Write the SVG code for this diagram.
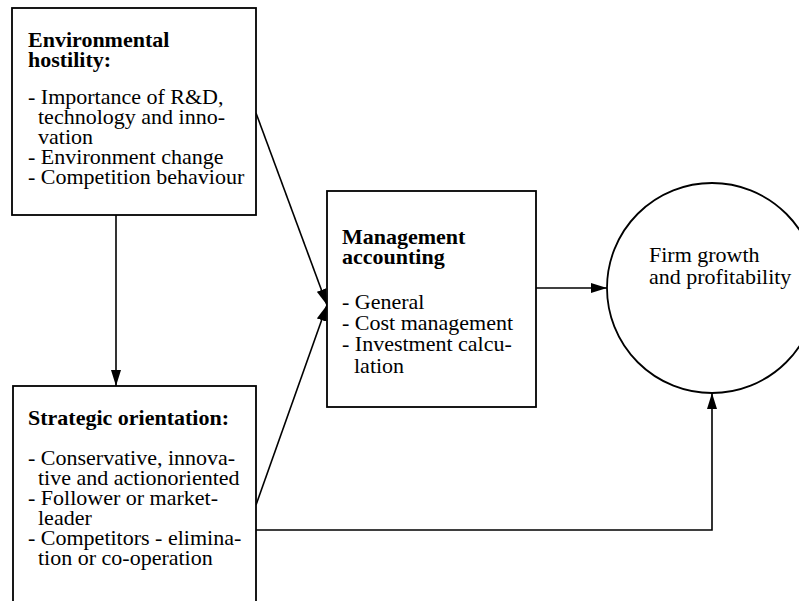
<svg xmlns="http://www.w3.org/2000/svg" width="799" height="601" viewBox="0 0 799 601">
<style>
.box{fill:#fff;stroke:#000;stroke-width:1.8}
.t{font-family:"Liberation Serif","Times New Roman",serif;font-size:22px;fill:#000}
.b{font-weight:bold}
.ln{fill:none;stroke:#000;stroke-width:1.6}
</style>
<defs>
<marker id="ah" viewBox="0 0 16 10" refX="16" refY="5" markerWidth="16" markerHeight="10" markerUnits="userSpaceOnUse" orient="auto">
<path d="M0,0 L16,5 L0,10 Z" fill="#000"/>
</marker>
</defs>
<rect width="799" height="601" fill="#fff"/>
<g id="connectors">
<line class="ln" x1="116" y1="215" x2="116" y2="386" marker-end="url(#ah)"/>
<line class="ln" x1="256" y1="113" x2="327" y2="305" marker-end="url(#ah)"/>
<line class="ln" x1="256" y1="505" x2="327" y2="305" marker-end="url(#ah)"/>
<line class="ln" x1="536" y1="288" x2="607" y2="288" marker-end="url(#ah)"/>
<polyline class="ln" points="256,530 712,530 712,393" marker-end="url(#ah)"/>
</g>
<g id="environmental-hostility">
<rect class="box" x="12" y="8" width="244" height="207"/>
<text class="t b" x="28" y="47">Environmental</text>
<text class="t b" x="28" y="67">hostility:</text>
<text class="t" x="28" y="104">- Importance of R&amp;D,</text>
<text class="t" x="38" y="124">technology and inno-</text>
<text class="t" x="38" y="144">vation</text>
<text class="t" x="28" y="164">- Environment change</text>
<text class="t" x="28" y="184">- Competition behaviour</text>
</g>
<g id="strategic-orientation">
<rect class="box" x="13" y="386" width="243" height="240"/>
<text class="t b" x="28" y="425">Strategic orientation:</text>
<text class="t" x="28" y="465">- Conservative,  innova-</text>
<text class="t" x="38" y="485">tive and actionoriented</text>
<text class="t" x="28" y="505">- Follower or market-</text>
<text class="t" x="38" y="525">leader</text>
<text class="t" x="28" y="545">- Competitors - elimina-</text>
<text class="t" x="38" y="565">tion or co-operation</text>
</g>
<g id="management-accounting">
<rect class="box" x="327" y="191" width="209" height="216"/>
<text class="t b" x="342" y="244">Management</text>
<text class="t b" x="342" y="264">accounting</text>
<text class="t" x="342" y="309">- General</text>
<text class="t" x="342" y="330">- Cost management</text>
<text class="t" x="342" y="351">- Investment calcu-</text>
<text class="t" x="354" y="373">lation</text>
</g>
<g id="firm-growth">
<circle class="box" cx="712" cy="288" r="105"/>
<text class="t" x="649" y="262">Firm growth</text>
<text class="t" x="649" y="284">and profitability</text>
</g>
</svg>
